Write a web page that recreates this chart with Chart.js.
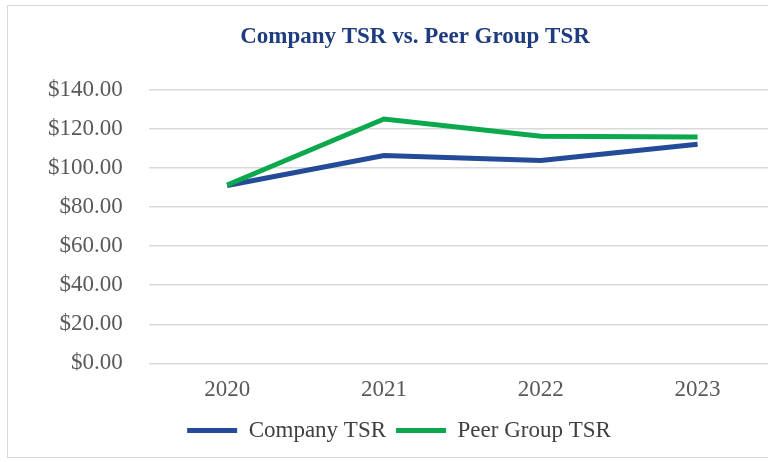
<!DOCTYPE html>
<html>
<head>
<meta charset="utf-8">
<script src="https://cdn.jsdelivr.net/npm/chart.js@4"></script>
<style>
  html, body { margin: 0; padding: 0; background: #fff; overflow: hidden; }
  #frame {
    position: absolute; left: 7px; top: 5px;
    width: 816px; height: 453px;
    border: 1px solid #d9d9d9; box-sizing: border-box;
  }
</style>
</head>
<body>
<div id="frame"><canvas id="tsr"></canvas></div>
<script>
// data
const years = ['2020', '2021', '2022', '2023'];
const companyTSR = [91.0, 106.3, 103.8, 112.0];
const peerTSR = [91.2, 125.0, 116.2, 115.7];
const yTicks = [0, 20, 40, 60, 80, 100, 120, 140];

const serif = '"Liberation Serif", "Times New Roman", serif';

// the title is centred on the whole frame, not on the padded box
const titleShift = {
    id: 'titleShift',
    afterLayout(chart) {
        if (chart.titleBlock) chart.titleBlock.left += 32;
    }
};

new Chart(document.getElementById('tsr'), {
    type: 'line',
    data: {
        labels: years,
        datasets: [
            {
                label: 'Company TSR',
                data: companyTSR,
                borderColor: '#234b97',
                backgroundColor: '#234b97',
                borderWidth: 5,
                pointRadius: 0,
                order: 1
            },
            {
                label: 'Peer Group TSR',
                data: peerTSR,
                borderColor: '#0ca84e',
                backgroundColor: '#0ca84e',
                borderWidth: 5,
                pointRadius: 0,
                order: 0 // drawn on top
            }
        ]
    },
    options: {
        responsive: true,
        maintainAspectRatio: false,
        animation: false,
        layout: { padding: { top: 15, left: 14, right: 46, bottom: 5 } },
        scales: {
            x: {
                offset: true,
                grid: { display: false },
                border: { display: false },
                ticks: { color: '#595959', padding: 5, font: { family: serif, size: 23 } }
            },
            y: {
                min: 0,
                max: 140,
                afterBuildTicks: (axis) => { axis.ticks = yTicks.map(v => ({ value: v })); },
                grid: { color: '#d9d9d9', lineWidth: 1.5, drawTicks: false },
                border: { display: false },
                ticks: {
                    color: '#595959',
                    padding: 26,
                    font: { family: serif, size: 23 },
                    callback: (v) => '$' + Number(v).toFixed(2)
                }
            }
        },
        plugins: {
            title: {
                display: true,
                text: 'Company TSR vs. Peer Group TSR',
                color: '#1f3c7e',
                font: { family: serif, size: 23, weight: 'bold' },
                padding: { top: 2, bottom: 39 }
            },
            legend: {
                position: 'bottom',
                labels: {
                    color: '#404040',
                    font: { family: serif, size: 23 },
                    usePointStyle: true,
                    pointStyle: 'line',
                    pointStyleWidth: 50,
                    padding: 10,
                    sort: (a, b) => a.datasetIndex - b.datasetIndex
                }
            },
            tooltip: { enabled: false }
        }
    },
    plugins: [titleShift]
});
</script>
</body>
</html>
